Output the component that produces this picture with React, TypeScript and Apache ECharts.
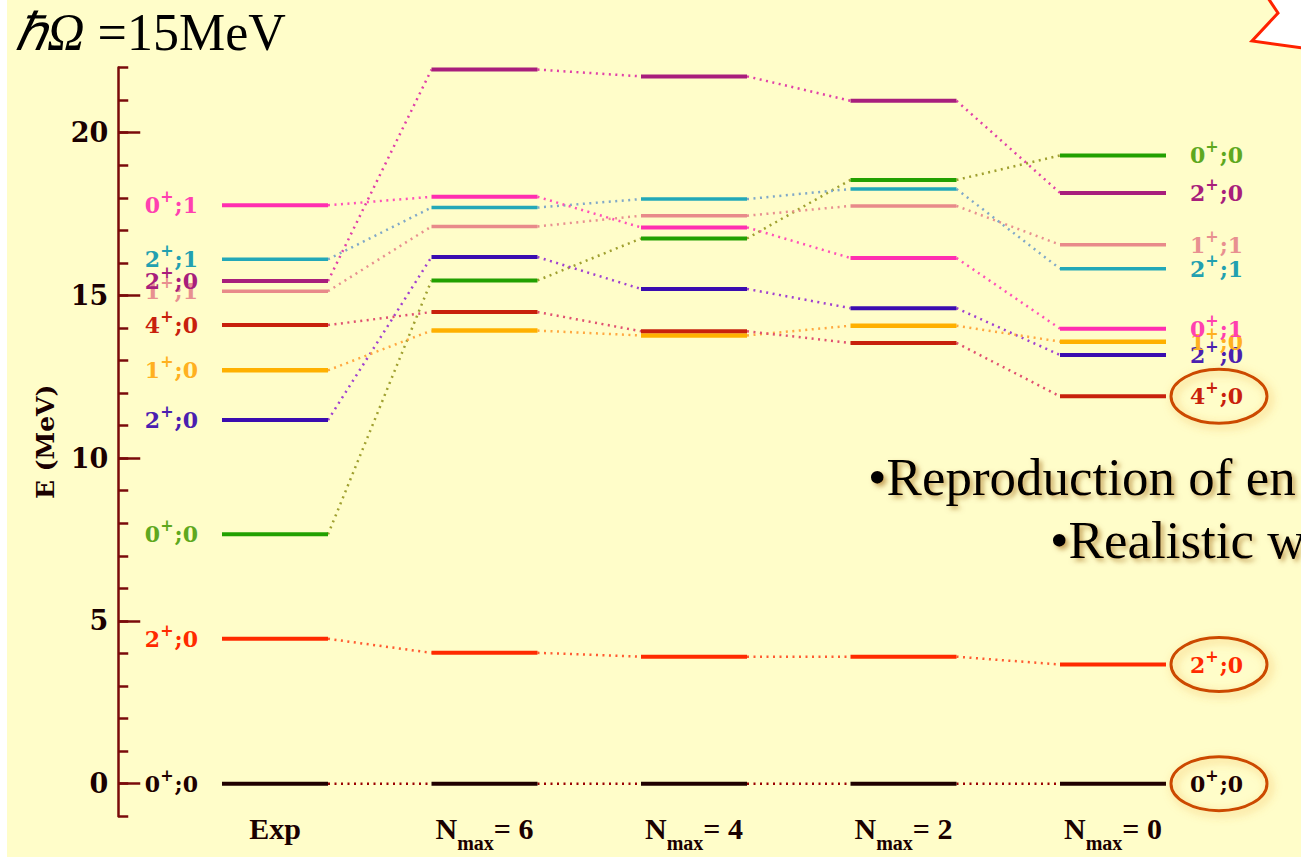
import React, { useEffect, useRef } from 'react';
import * as echarts from 'echarts';

// ---- data ----
const categories = ['Exp', 'N_max=6', 'N_max=4', 'N_max=2', 'N_max=0'];

// state labels (J^pi;T), drawn as digit, superscript "+", then ";T"
const stateJ = ['0', '2', '0', '2', '1', '4', '1', '2', '2', '0'];
const stateT = ['0', '0', '0', '0', '0', '0', '1', '0', '1', '1'];

// energies (MeV) per column: Exp, Nmax=6, 4, 2, 0
const ground0p0 = [0, 0, 0, 0, 0];
const first2p0 = [4.45, 4.02, 3.9, 3.9, 3.66];
const second0p0 = [7.66, 15.46, 16.75, 18.55, 19.3];
const second2p0 = [11.17, 16.18, 15.2, 14.61, 13.17];
const first1p0 = [12.7, 13.92, 13.77, 14.07, 13.58];
const first4p0 = [14.09, 14.49, 13.9, 13.54, 11.9];
const first1p1 = [15.13, 17.12, 17.45, 17.75, 16.56];
const third2p0 = [15.44, 21.94, 21.73, 20.98, 18.15];
const first2p1 = [16.11, 17.7, 17.96, 18.27, 15.82];
const first0p1 = [17.77, 18.03, 17.09, 16.15, 13.98];

const stateValues = [
  ground0p0, first2p0, second0p0, second2p0, first1p0,
  first4p0, first1p1, third2p0, first2p1, first0p1,
];
const circled = [true, true, false, false, false, true, false, false, false, false];

const yMajorTicks = [0, 5, 10, 15, 20];
const yMinorTicks = [-1, 0, 1, 2, 3, 4, 5, 6, 7, 8, 9, 10, 11, 12, 13, 14, 15, 16, 17, 18, 19, 20, 21, 22];

// ---- styles ----
const lineColors = ['#200000', '#FF2A00', '#22A000', '#3A0CB0', '#FFB000', '#C8200C', '#E88A8A', '#A81E7C', '#22A8B8', '#FF2EB0'];
const labelColors = ['#200000', '#FF2A00', '#5EA81E', '#4A20B0', '#FFB020', '#C8200C', '#E89090', '#A81E7C', '#22A0B0', '#FF40B0'];
const connColors = ['#9A0000', '#FF5A30', '#A0A030', '#A040D0', '#FFA840', '#E05070', '#E89090', '#E040A8', '#80A8C8', '#FF50B8'];
const lineWidths = [4, 4, 4, 4, 4.5, 4, 3.5, 4, 3.5, 4];

const SERIF_B = '"DejaVu Serif", serif';

function levelLabelRich(color: string) {
  return {
    b: { fontFamily: SERIF_B, fontWeight: 'bold', fontSize: 22, lineHeight: 32, fill: color },
    s: { fontFamily: SERIF_B, fontWeight: 'bold', fontSize: 16, lineHeight: 15, padding: [0, 1, 17, 0], fill: color },
  };
}

function makeRenderItem(k: number) {
  return (params: any, api: any) => {
    const ci = api.value(0);
    const v = api.value(1);
    const band = api.size([1, 0])[0];
    const hw = band * 0.253;
    const c = api.coord([ci, v]);
    const vals = stateValues[k];
    const children: any[] = [];
    if (ci < vals.length - 1) {
      const n = api.coord([ci + 1, vals[ci + 1]]);
      children.push({
        type: 'line',
        shape: { x1: c[0] + hw, y1: c[1], x2: n[0] - hw, y2: n[1] },
        style: { stroke: connColors[k], lineWidth: 2.5, lineDash: [2, 4.5] },
      });
    }
    children.push({
      type: 'line',
      shape: { x1: c[0] - hw, y1: c[1], x2: c[0] + hw, y2: c[1] },
      style: { stroke: lineColors[k], lineWidth: lineWidths[k] },
    });
    const txt = '{b|' + stateJ[k] + '}{s|+}{b|;' + stateT[k] + '}';
    if (ci === 0) {
      children.push({
        type: 'text',
        x: c[0] - hw - 24,
        y: c[1],
        style: { text: txt, rich: levelLabelRich(labelColors[k]), align: 'right', verticalAlign: 'middle', fill: labelColors[k] },
      });
    }
    if (ci === vals.length - 1) {
      children.push({
        type: 'text',
        x: c[0] + hw + 24,
        y: c[1],
        style: { text: txt, rich: levelLabelRich(labelColors[k]), align: 'left', verticalAlign: 'middle', fill: labelColors[k] },
      });
      if (circled[k]) {
        children.push({
          type: 'ellipse',
          shape: { cx: c[0] + hw + 53, cy: c[1], rx: 48, ry: 27 },
          style: {
            fill: 'none', stroke: '#CC4A00', lineWidth: 3,
            shadowBlur: 10, shadowColor: 'rgba(240,170,60,0.7)', shadowOffsetX: 3, shadowOffsetY: 3,
          },
        });
      }
    }
    return { type: 'group', children };
  };
}

export default function App() {
  const ref = useRef<HTMLDivElement>(null);
  useEffect(() => {
    if (!ref.current) return;
    const chart = echarts.init(ref.current, undefined, { renderer: 'svg' });
    const axisColor = '#7A0A0A';
    const option: any = {
      animation: false,
      backgroundColor: '#FFFDC9',
      grid: { left: 170.25, right: 83.25, top: 67.6, bottom: 40.8 },
      xAxis: {
        type: 'category',
        data: categories,
        boundaryGap: true,
        axisLine: { show: false },
        axisTick: { show: false },
        axisLabel: {
          margin: -13,
          formatter: (val: string) => {
            if (val.indexOf('N_max=') === 0) return '{n|N}{s|max}{n|= ' + val.slice(6) + '}';
            return '{n|' + val + '}';
          },
          rich: {
            n: { fontFamily: '"Liberation Serif", serif', fontWeight: 'bold', fontSize: 30, lineHeight: 50, color: '#1A0000' },
            s: { fontFamily: '"Liberation Serif", serif', fontWeight: 'bold', fontSize: 20, lineHeight: 20, padding: [30, 0, 0, 0], color: '#1A0000' },
          },
        },
      },
      yAxis: [
        {
          type: 'value',
          min: -1,
          max: 22,
          position: 'left',
          offset: 52,
          name: 'E (MeV)',
          nameLocation: 'middle',
          nameRotate: 90,
          nameGap: 60,
          nameTextStyle: { fontFamily: SERIF_B, fontWeight: 'bold', fontSize: 25, color: '#1A0000' },
          axisLine: { show: true, lineStyle: { color: axisColor, width: 2.5 } },
          axisTick: { show: true, inside: true, length: 10, customValues: yMinorTicks, lineStyle: { color: axisColor, width: 2.5 } },
          axisLabel: { customValues: yMajorTicks, margin: 10, fontFamily: SERIF_B, fontWeight: 'bold', fontSize: 27, color: '#1A0000' },
          splitLine: { show: false },
        },
        {
          type: 'value',
          min: -1,
          max: 22,
          position: 'left',
          offset: 52,
          axisLine: { show: false },
          axisTick: { show: true, inside: true, length: 22, customValues: yMajorTicks, lineStyle: { color: axisColor, width: 2.5 } },
          axisLabel: { show: false },
          splitLine: { show: false },
        },
      ],
      series: stateValues.map((vals, k) => ({
        type: 'custom',
        coordinateSystem: 'cartesian2d',
        xAxisIndex: 0,
        yAxisIndex: 0,
        clip: false,
        encode: { x: 0, y: 1 },
        data: vals.map((v, i) => [i, v]),
        renderItem: makeRenderItem(k),
      })),
      graphic: [
        { type: 'rect', left: 0, top: 0, shape: { x: 0, y: 0, width: 7, height: 857 }, style: { fill: '#FFFFFF' }, z: 100 },
        {
          type: 'polygon',
          shape: { points: [[1268, -2], [1278, 13], [1252, 41], [1303, 48], [1303, -2]] },
          style: { fill: '#FFFFFF', stroke: '#FF2200', lineWidth: 3 },
          z: 100,
        },
        {
          type: 'text',
          x: 15,
          y: 32,
          style: {
            text: '{i|ℏΩ}{n| =15MeV}',
            verticalAlign: 'middle',
            rich: {
              i: { fontFamily: '"Liberation Serif", serif', fontStyle: 'italic', fontSize: 52, fill: '#000' },
              n: { fontFamily: '"Liberation Serif", serif', fontSize: 52, fill: '#000' },
            },
          },
          z: 100,
        },
        {
          type: 'text',
          x: 868,
          y: 477,
          style: {
            text: '•Reproduction of en',
            fontFamily: '"Liberation Serif", serif', fontSize: 53, fill: '#000',
            verticalAlign: 'middle',
            textShadowColor: 'rgba(150,90,0,0.55)', textShadowBlur: 5, textShadowOffsetX: 3, textShadowOffsetY: 3,
          },
          z: 100,
        },
        {
          type: 'text',
          x: 1050,
          y: 540,
          style: {
            text: '•Realistic w',
            fontFamily: '"Liberation Serif", serif', fontSize: 53, fill: '#000',
            verticalAlign: 'middle',
            textShadowColor: 'rgba(150,90,0,0.55)', textShadowBlur: 5, textShadowOffsetX: 3, textShadowOffsetY: 3,
          },
          z: 100,
        },
      ],
    };
    chart.setOption(option);
    return () => chart.dispose();
  }, []);
  return <div ref={ref} style={{ position: 'fixed', left: 0, top: 0, width: 1301, height: 857 }} />;
}
